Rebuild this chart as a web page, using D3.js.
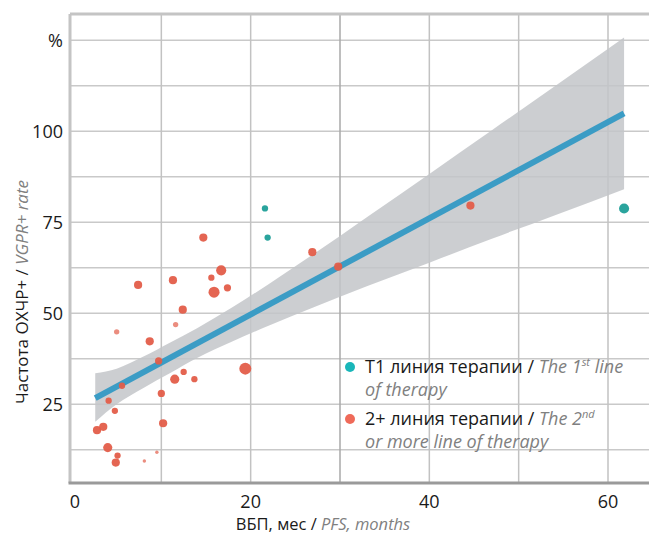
<!DOCTYPE html>
<html>
<head>
<meta charset="utf-8">
<script src="https://cdn.jsdelivr.net/npm/d3@7"></script>
<style>
  body { margin: 0; background: #fff; }
  svg { display: block; font-family: "Open Sans", "Noto Sans", sans-serif; }
</style>
</head>
<body>
<script>
// points: PFS months, VGPR+ rate, bubble weight
var firstLineX = [21.6, 21.9, 61.8];
var firstLineY = [78.8, 70.8, 78.8];
var firstLineW = [2, 2, 4];

var laterLineX = [14.7, 16.7, 15.6, 7.4, 11.3, 15.9, 17.4, 12.4, 11.6, 5.0, 8.7, 9.7, 19.4, 12.5, 11.5, 13.7, 10.0, 4.1, 5.6, 4.8, 10.2, 2.8, 3.5, 4.0, 5.1, 4.9, 9.5, 8.1, 44.6, 29.8, 26.9];
var laterLineY = [70.8, 61.8, 59.8, 57.8, 59.1, 55.8, 57.0, 51.0, 46.9, 44.9, 42.3, 36.9, 34.8, 33.9, 31.9, 31.9, 28.0, 26.0, 30.1, 23.2, 19.8, 17.9, 18.8, 13.1, 10.9, 9.0, 11.8, 9.4, 79.6, 62.8, 66.8];
var laterLineW = [3, 4, 2, 3, 3, 4.5, 2.5, 3, 1.5, 1.5, 3, 2.5, 5, 2, 3.5, 2, 2.5, 2, 2, 2, 3, 3, 3, 3.5, 2, 3, 0.5, 0.5, 3, 3, 3];

// fitted line ends and confidence band
var fitX = [2.6, 61.8];
var fitY = [26.7, 104.9];
var bandX = [2.6, 5, 8, 11, 14, 18, 22, 27, 33, 40, 47, 54, 61.8];
var bandLo = [20.2, 25.0, 29.5, 33.6, 37.7, 42.3, 46.6, 51.6, 57.4, 63.9, 70.5, 76.9, 84.1];
var bandHi = [33.5, 34.8, 38.1, 42.0, 45.9, 51.7, 58.0, 66.2, 76.4, 88.3, 100.3, 112.3, 125.8];

var xTicks = [0, 20, 40, 60];
var xGrid = [10, 20, 30, 40, 50, 60];
var yTicks = [25, 50, 75, 100, 125];
var yTickLabels = ['25', '50', '75', '100', '%'];
var yGrid = [12.5, 25, 37.5, 50, 62.5, 75, 87.5, 100, 112.5, 125];

var W = 649, H = 538;
var panel = { left: 70, top: 14, right: 649, bottom: 483 };

var svg = d3.select('body').append('svg')
	.attr('width', W)
	.attr('height', H);

var x = d3.scaleLinear().domain([0, 60]).range([72, 608]);
var y = d3.scaleLinear().domain([0, 125]).range([495.3, 40.3]);
var r = d3.scaleLinear().domain([1, 5]).range([2.2, 6]);

svg.append('defs').append('clipPath')
	.attr('id', 'panel-clip')
	.append('rect')
	.attr('x', panel.left)
	.attr('y', panel.top)
	.attr('width', panel.right - panel.left)
	.attr('height', panel.bottom - panel.top);

var g = svg.append('g').attr('clip-path', 'url(#panel-clip)');

// grid
g.selectAll('.hgrid')
	.data(yGrid)
	.enter().append('line')
	.attr('x1', panel.left).attr('x2', panel.right)
	.attr('y1', function(d) { return y(d); })
	.attr('y2', function(d) { return y(d); })
	.style('stroke', '#c9c9c9')
	.style('stroke-width', 1.5);

g.selectAll('.vgrid')
	.data(xGrid)
	.enter().append('line')
	.attr('y1', panel.top).attr('y2', panel.bottom)
	.attr('x1', function(d) { return x(d); })
	.attr('x2', function(d) { return x(d); })
	.style('stroke', function(d) { return d === 30 ? '#a8a8a8' : '#c2c2c2'; })
	.style('stroke-width', 1.5);

// panel border
svg.append('line')
	.attr('x1', panel.left).attr('x2', panel.right)
	.attr('y1', panel.top).attr('y2', panel.top)
	.style('stroke', '#c4c4c4').style('stroke-width', 3);
svg.append('line')
	.attr('x1', panel.left).attr('x2', panel.left)
	.attr('y1', panel.top).attr('y2', panel.bottom)
	.style('stroke', '#c4c4c4').style('stroke-width', 3);
svg.append('line')
	.attr('x1', panel.left - 1.5).attr('x2', panel.right)
	.attr('y1', panel.bottom).attr('y2', panel.bottom)
	.style('stroke', '#9a9a9a').style('stroke-width', 3);

// confidence band
var band = bandX.map(function(d, i) { return { x: d, lo: bandLo[i], hi: bandHi[i] }; });
g.append('path')
	.datum(band)
	.attr('d', d3.area()
		.x(function(d) { return x(d.x); })
		.y0(function(d) { return y(d.lo); })
		.y1(function(d) { return y(d.hi); })
		.curve(d3.curveMonotoneX))
	.style('fill', '#c3c6c9')
	.style('fill-opacity', 0.85);

// regression line
g.append('line')
	.attr('x1', x(fitX[0])).attr('y1', y(fitY[0]))
	.attr('x2', x(fitX[1])).attr('y2', y(fitY[1]))
	.style('stroke', '#3b9cc5')
	.style('stroke-width', 6);

// points
var pts = [];
firstLineX.forEach(function(d, i) { pts.push({ x: d, y: firstLineY[i], w: firstLineW[i], grp: 1 }); });
laterLineX.forEach(function(d, i) { pts.push({ x: d, y: laterLineY[i], w: laterLineW[i], grp: 2 }); });

g.selectAll('.pt')
	.data(pts)
	.enter().append('circle')
	.attr('cx', function(d) { return x(d.x); })
	.attr('cy', function(d) { return y(d.y); })
	.attr('r', function(d) { return Math.max(1.2, r(d.w)); })
	.style('fill', function(d) { return d.grp === 1 ? '#1f9f98' : '#e35d49'; })
	.style('fill-opacity', function(d) { return d.w < 2 ? 0.7 : 0.95; });

// tick labels
svg.selectAll('.ytick')
	.data(yTicks)
	.enter().append('text')
	.attr('x', 63)
	.attr('y', function(d) { return y(d) + 6.5; })
	.attr('text-anchor', 'end')
	.style('font-size', '18px')
	.style('fill', '#1a1a1a')
	.text(function(d, i) { return yTickLabels[i]; });

svg.selectAll('.xtick')
	.data(xTicks)
	.enter().append('text')
	.attr('x', function(d) { return x(d) + (d === 0 ? 3 : 0); })
	.attr('y', 508)
	.attr('text-anchor', 'middle')
	.style('font-size', '18px')
	.style('fill', '#1a1a1a')
	.text(function(d) { return d; });

// axis titles
var xt = svg.append('text')
	.attr('x', 323)
	.attr('y', 530)
	.attr('text-anchor', 'middle')
	.style('font-size', '16.5px')
	.style('fill', '#1a1a1a');
xt.append('tspan').text('ВБП, мес / ');
xt.append('tspan').style('font-style', 'italic').style('fill', '#808080').text('PFS, months');

var yt = svg.append('text')
	.attr('transform', 'translate(28,292) rotate(-90)')
	.attr('text-anchor', 'middle')
	.style('font-size', '17px')
	.style('fill', '#1a1a1a');
yt.append('tspan').text('Частота ОХЧР+ / ');
yt.append('tspan').style('font-style', 'italic').style('fill', '#808080').text('VGPR+ rate');

// legend
var legend = svg.append('g').style('font-size', '18px');

legend.append('circle').attr('cx', 350).attr('cy', 367).attr('r', 5).style('fill', '#19b6b9');
legend.append('circle').attr('cx', 350).attr('cy', 419).attr('r', 5).style('fill', '#ef6a59');

var l1 = legend.append('text').attr('x', 365).attr('y', 373).style('fill', '#1a1a1a');
l1.append('tspan').text('Т1 линия терапии / ');
var l1i = l1.append('tspan').style('font-style', 'italic').style('fill', '#808080');
l1i.append('tspan').text('The 1');
l1i.append('tspan').attr('dy', -7).style('font-size', '11px').text('st');
l1i.append('tspan').attr('dy', 7).text(' line');
legend.append('text').attr('x', 365).attr('y', 396)
	.style('font-style', 'italic').style('fill', '#808080').text('of therapy');

var l2 = legend.append('text').attr('x', 365).attr('y', 425).style('fill', '#1a1a1a');
l2.append('tspan').text('2+ линия терапии / ');
var l2i = l2.append('tspan').style('font-style', 'italic').style('fill', '#808080');
l2i.append('tspan').text('The 2');
l2i.append('tspan').attr('dy', -7).style('font-size', '11px').text('nd');
legend.append('text').attr('x', 365).attr('y', 448)
	.style('font-style', 'italic').style('fill', '#808080').text('or more line of therapy');
</script>
</body>
</html>
